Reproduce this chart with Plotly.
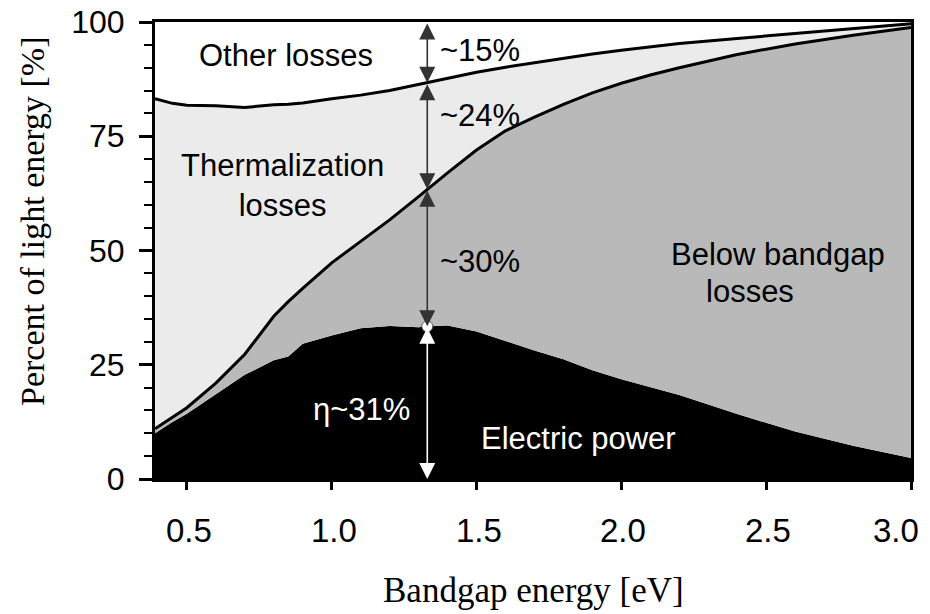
import numpy as np
import plotly.graph_objects as go

# Bandgap energy grid [eV]
energy = [0.39, 0.45, 0.5, 0.6, 0.7, 0.8, 0.85, 0.9, 1.0, 1.1, 1.2, 1.3, 1.33,
          1.4, 1.5, 1.6, 1.7, 1.8, 1.9, 2.0, 2.1, 2.2, 2.4, 2.6, 2.8, 3.0]
# Cumulative percentages of light energy
electric_power = [10.0, 12.5, 14.3, 18.5, 22.8, 26.0, 26.8, 29.6, 31.4, 33.0, 33.5, 33.2, 33.4,
                  33.6, 32.3, 30.2, 28.1, 26.2, 23.8, 21.8, 20.1, 18.4, 14.2, 10.4, 7.3, 4.6]
below_bandgap_top = [11.0, 13.5, 15.6, 21.0, 27.3, 35.6, 38.8, 41.7, 47.3, 52.0, 56.7, 61.8, 63.4,
                     67.0, 72.0, 76.2, 79.2, 82.0, 84.5, 86.6, 88.4, 90.0, 92.9, 95.2, 97.1, 98.8]
thermal_top = [83.2, 82.2, 81.8, 81.7, 81.3, 81.9, 82.0, 82.3, 83.2, 84.0, 85.0, 86.3, 86.7,
               87.7, 89.0, 90.1, 91.1, 92.1, 93.0, 93.8, 94.6, 95.3, 96.4, 97.5, 98.5, 99.6]

x_ticks = [0.5, 1.0, 1.5, 2.0, 2.5, 3.0]
x_tick_labels = ["0.5", "1.0", "1.5", "2.0", "2.5", "3.0"]
y_ticks = [0, 25, 50, 75, 100]
optimum_gap = 1.33

sans = "Liberation Sans, Arial, sans-serif"
serif = "Liberation Serif, Times New Roman, serif"

fig = go.Figure()
fig.add_trace(go.Scatter(x=energy, y=electric_power, mode="lines", line=dict(width=0, color="black"),
                         fill="tozeroy", fillcolor="black", hoverinfo="skip", showlegend=False))
fig.add_trace(go.Scatter(x=energy, y=below_bandgap_top, mode="lines", line=dict(width=0, color="black"),
                         fill="tonexty", fillcolor="#b9b9b9", hoverinfo="skip", showlegend=False))
fig.add_trace(go.Scatter(x=energy, y=thermal_top, mode="lines", line=dict(width=0, color="black"),
                         fill="tonexty", fillcolor="#ebebeb", hoverinfo="skip", showlegend=False))
fig.add_trace(go.Scatter(x=energy, y=below_bandgap_top, mode="lines", line=dict(width=3, color="black"),
                         hoverinfo="skip", showlegend=False))
fig.add_trace(go.Scatter(x=energy, y=thermal_top, mode="lines", line=dict(width=3, color="black"),
                         hoverinfo="skip", showlegend=False))

p_top = float(np.interp(optimum_gap, energy, thermal_top))
p_mid = float(np.interp(optimum_gap, energy, below_bandgap_top))
p_el = float(np.interp(optimum_gap, energy, electric_power))

arrows = [(100, p_top, "#333333"), (p_top, p_mid, "#333333"), (p_mid, p_el, "#333333"), (p_el, 0, "white")]
for y0, y1, col in arrows:
    fig.add_annotation(x=optimum_gap, y=y1, ax=optimum_gap, ay=y0, xref="x", yref="y",
                       axref="x", ayref="y", text="", showarrow=True, arrowhead=2,
                       arrowside="end+start", arrowsize=2.0, arrowwidth=1.6, arrowcolor=col)

fig.add_trace(go.Scatter(x=[optimum_gap], y=[p_el], mode="markers",
                         marker=dict(size=11, color="white", line=dict(color="#555555", width=1)),
                         hoverinfo="skip", showlegend=False))

labels = [
    ("Other losses", 0.842, 92.6, "black", "center"),
    ("Thermalization<br>losses", 0.831, 64.3, "black", "center"),
    ("Below bandgap", 2.541, 49.2, "black", "center"),
    ("losses", 2.444, 41.1, "black", "center"),
    ("~15%", 1.367, 93.7, "black", "left"),
    ("~24%", 1.367, 79.6, "black", "left"),
    ("~30%", 1.367, 47.5, "black", "left"),
    ("η~31%", 1.104, 15.3, "white", "center"),
    ("Electric power", 1.852, 8.8, "white", "center"),
]
for txt, lx, ly, col, anc in labels:
    fig.add_annotation(x=lx, y=ly, xref="x", yref="y", text=txt, showarrow=False,
                       xanchor=anc, yanchor="middle", font=dict(family=sans, size=31, color=col))

# x tick labels (the last one is kept inside the page, as in the reference)
for i, (tv, tl) in enumerate(zip(x_ticks, x_tick_labels)):
    last = i == len(x_ticks) - 1
    fig.add_annotation(x=tv, y=-0.112, xref="x", yref="paper", text=tl, showarrow=False,
                       xanchor="right" if last else "center", xshift=10 if last else 2,
                       yanchor="middle", font=dict(family=sans, size=33, color="black"))

fig.add_annotation(x=-0.1614, y=0.5646, xref="paper", yref="paper", text="Percent of light energy [%]",
                   textangle=-90, showarrow=False, xanchor="center", yanchor="middle",
                   font=dict(family=serif, size=34, color="black"))
fig.add_annotation(x=0.5, y=-0.245, xref="paper", yref="paper", text="Bandgap energy [eV]",
                   showarrow=False, xanchor="center", yanchor="middle",
                   font=dict(family=serif, size=35, color="black"))

# page body has an 8 px margin, so the figure is placed 8 px right/down in the window
fig.update_layout(
    width=930, height=614,
    margin=dict(l=147, r=27, t=14, b=143, autoexpand=False),
    paper_bgcolor="white", plot_bgcolor="white",
    xaxis=dict(range=[0.39, 3.0], tickvals=x_ticks, showticklabels=False,
               automargin=False,
               showgrid=False, zeroline=False, showline=True, linecolor="black", linewidth=3,
               mirror=True, ticks="outside", ticklen=8, tickwidth=2.5, tickcolor="black"),
    yaxis=dict(range=[0, 100], tickvals=y_ticks, showgrid=False, zeroline=False, showline=True,
               automargin=False, ticklabeloverflow="allow",
               linecolor="black", linewidth=3, mirror=True, ticks="outside", ticklen=13,
               tickwidth=2.5, tickcolor="black", ticklabelstandoff=8,
               minor=dict(dtick=5, ticklen=8, tickwidth=2, tickcolor="black", ticks="outside"),
               tickfont=dict(family=sans, size=32, color="black")),
)

fig.write_html("out.html", config={"displayModeBar": False})
